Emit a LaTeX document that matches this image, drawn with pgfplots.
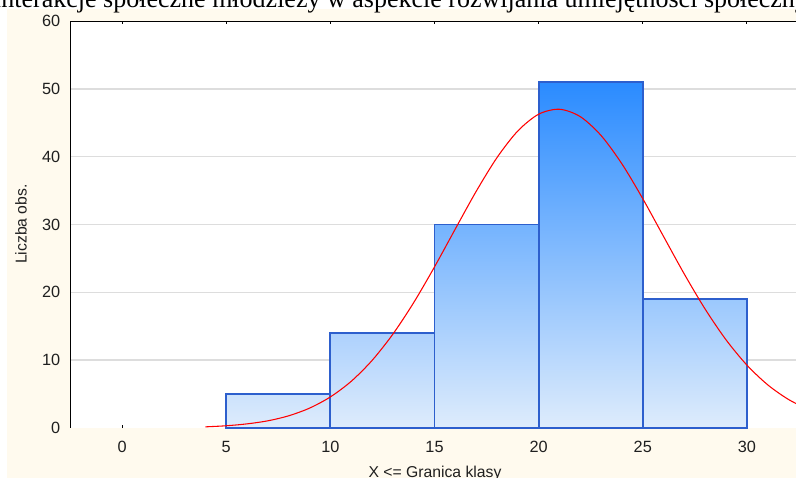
\documentclass[border=0pt]{standalone}
\usepackage{fontspec}
\setmainfont{Liberation Sans}
\newfontfamily\titlefont{Liberation Serif}
\usepackage{pgfplots}
\pgfplotsset{compat=1.18}

\definecolor{cream}{RGB}{255,250,238}
\definecolor{barline}{RGB}{45,95,205}
\definecolor{gridgray}{RGB}{221,221,221}
\definecolor{barbase}{RGB}{222,236,252}
% top colours follow one vertical gradient (light at 0, deep blue at 51)
\definecolor{barA}{RGB}{204,226,252}
\definecolor{barB}{RGB}{173,209,253}
\definecolor{barC}{RGB}{116,179,254}
\definecolor{barD}{RGB}{42,139,255}
\definecolor{barE}{RGB}{155,200,253}

\begin{document}
\begin{tikzpicture}
% page area (1px = 0.75pt)
\fill[white] (0,0) rectangle (597pt,-358.5pt);
\fill[cream] (5.25pt,-6.75pt) rectangle (597pt,-358.5pt);

\begin{axis}[
  scale only axis,
  width=546.75pt, height=305.25pt,
  at={(52.5pt,-321pt)}, anchor=south west,
  xmin=-2.5, xmax=32.5, ymin=0, ymax=60,
  axis background/.style={fill=white},
  axis line style={draw=none},
  xtick={0,5,...,30},
  ytick={10,20,...,50},
  extra y ticks={0,60},
  extra y tick style={grid=none},
  ymajorgrids,
  grid style={gridgray, line width=1.1pt},
  xtick align=inside,
  major tick length=2.6pt,
  x tick style={black, line width=0.8pt},
  y tick style={draw=none},
  /pgf/number format/assume math mode=true,
  tick label style={font=\fontsize{12.2}{14}\selectfont, text=black!88},
  xticklabel style={anchor=base, inner sep=0pt, yshift=-18pt},
  yticklabel style={anchor=east, inner sep=0pt, xshift=-7.2pt},
  xlabel={X <= Granica klasy},
  ylabel={Liczba obs.},
  label style={font=\fontsize{11.8}{14}\selectfont, text=black!88},
  xlabel style={at={(axis description cs:0.5007,-0.1204)}, anchor=base, inner sep=0pt},
  ylabel style={at={(axis description cs:-0.0672,0.501)}, anchor=center, inner sep=0pt},
]
% histogram bars (class width 5)
\addplot[ybar, bar width=5, bar shift=0pt, draw=barline, line width=1.4pt,
  top color=barA, bottom color=barbase] coordinates {(7.5,5)};
\addplot[ybar, bar width=5, bar shift=0pt, draw=barline, line width=1.4pt,
  top color=barB, bottom color=barbase] coordinates {(12.5,14)};
\addplot[ybar, bar width=5, bar shift=0pt, draw=barline, line width=1.4pt,
  top color=barC, bottom color=barbase] coordinates {(17.5,30)};
\addplot[ybar, bar width=5, bar shift=0pt, draw=barline, line width=1.4pt,
  top color=barD, bottom color=barbase] coordinates {(22.5,51)};
\addplot[ybar, bar width=5, bar shift=0pt, draw=barline, line width=1.4pt,
  top color=barE, bottom color=barbase] coordinates {(27.5,19)};

% fitted normal curve
\addplot[red, line width=0.8pt, smooth] coordinates {
  (4,0.17) (5,0.33) (6,0.61) (7,1.06) (8,1.80) (9,2.93) (10,4.58)
  (11,6.88) (12,9.95) (13,13.83) (14,18.48) (15,23.75) (16,29.35)
  (17,34.88) (18,39.86) (19,43.79) (20,46.26) (21,46.99) (22,45.90)
  (23,43.11) (24,38.93) (25,33.80) (26,28.22) (27,22.66) (28,17.50)
  (29,12.99) (30,9.27) (31,6.36) (32,4.20) (33,2.66)
};

% left and top frame lines
\draw[black, line width=1.3pt] (rel axis cs:0,0) -- (rel axis cs:0,1) -- (rel axis cs:1,1);
\end{axis}

\node[anchor=base west, inner sep=0pt, font=\titlefont\fontsize{19.5}{22}\selectfont]
  at (-5.6pt,-5.6pt) {Interakcje społeczne młodzieży w aspekcie rozwijania umiejętności społecznych};

\pgfresetboundingbox
\useasboundingbox (0,0) rectangle (597pt,-358.5pt);
\end{tikzpicture}
\end{document}
